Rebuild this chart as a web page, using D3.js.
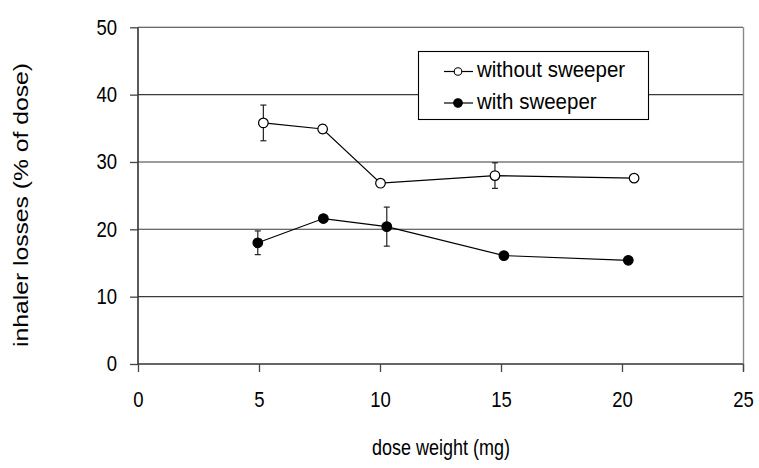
<!DOCTYPE html>
<html><head><meta charset="utf-8">
<script src="https://cdn.jsdelivr.net/npm/d3@7"></script>
<style>body{margin:0;background:#fff}svg{display:block;font-family:Arial,"Liberation Sans",sans-serif}</style>
</head><body>
<svg id="c" width="759" height="468"></svg>
<script>
const xTicks = [0, 5, 10, 15, 20, 25];
const yTicks = [0, 10, 20, 30, 40, 50];
const seriesNames = ["without sweeper", "with sweeper"];
const withoutX = [5.18, 7.63, 10.02, 14.75, 20.5];
const withoutY = [35.8, 34.9, 26.85, 27.98, 27.6];
const withoutErr = [2.65, 0.6, 0.5, 1.9, 0.3];
const withX = [4.95, 7.66, 10.28, 15.12, 20.26];
const withY = [18.0, 21.6, 20.4, 16.1, 15.4];
const withErr = [1.76, 0.3, 2.9, 0.3, 0.3];

const svg = d3.select("#c");
const L = 138, R = 743, T = 27.3, B = 364;
const x = d3.scaleLinear().domain([0, 25]).range([L, R]);
const y = d3.scaleLinear().domain([0, 50]).range([B, T]);

// stretch text vertically: keep width of baseSize, height of tallSize
function stretch(sel, baseSize, tallSize) {
  sel.each(function () {
    const t = d3.select(this).attr("font-size", baseSize);
    const w = this.getComputedTextLength();
    t.attr("font-size", tallSize).attr("textLength", w).attr("lengthAdjust", "spacingAndGlyphs");
  });
}

// gridlines
svg.append("g").selectAll("line").data(yTicks.filter(d => d > 0)).join("line")
  .attr("x1", L).attr("x2", R).attr("y1", d => y(d)).attr("y2", d => y(d))
  .attr("stroke", "#3a3a3a").attr("stroke-width", 1.1);
// right border
svg.append("line").attr("x1", R + 0.5).attr("x2", R + 0.5).attr("y1", T).attr("y2", B + 7)
  .attr("stroke", "#888").attr("stroke-width", 1.4);

const xAxis = svg.append("g").attr("transform", `translate(0,${B})`)
  .call(d3.axisBottom(x).tickValues(xTicks).tickSize(8).tickPadding(20).tickFormat(d3.format("d")));
const yAxis = svg.append("g").attr("transform", `translate(${L},0)`)
  .call(d3.axisLeft(y).tickValues(yTicks).tickSize(8).tickPadding(13).tickFormat(d3.format("d")));
[xAxis, yAxis].forEach(a => {
  a.select(".domain").attr("stroke", "#333").attr("stroke-width", 1.6);
  a.selectAll(".tick line").attr("stroke", "#444").attr("stroke-width", 1.3);
  a.selectAll("text").attr("fill", "#000").attr("font-family", "Arial, 'Liberation Sans', sans-serif");
  stretch(a.selectAll("text"), 18.5, 21.5);
});
xAxis.select(".domain").attr("d", `M${L},0H${R}`);
yAxis.select(".domain").attr("d", `M0,${T}V${B}`);

const xt = svg.append("text").attr("x", 441).attr("y", 455).attr("text-anchor", "middle").text("dose weight (mg)");
stretch(xt, 18, 21.5);
svg.append("text").attr("transform", "translate(28,205) rotate(-90)").attr("text-anchor", "middle")
  .attr("font-size", 20).attr("textLength", 284).attr("lengthAdjust", "spacingAndGlyphs")
  .text("inhaler losses (% of dose)");

const series = [
  {name: seriesNames[0], xs: withoutX, ys: withoutY, es: withoutErr, fill: "#fff"},
  {name: seriesNames[1], xs: withX, ys: withY, es: withErr, fill: "#000"}
];
const line = d3.line().x(d => x(d.x)).y(d => y(d.y));
series.forEach(s => {
  const pts = s.xs.map((v, i) => ({x: v, y: s.ys[i], e: s.es[i]}));
  const g = svg.append("g");
  g.append("path").attr("d", line(pts)).attr("fill", "none").attr("stroke", "#000").attr("stroke-width", 1.2);
  pts.forEach(p => {
    const cx = x(p.x);
    g.append("line").attr("x1", cx).attr("x2", cx).attr("y1", y(p.y + p.e)).attr("y2", y(p.y - p.e))
      .attr("stroke", "#222").attr("stroke-width", 1.2);
    [p.y + p.e, p.y - p.e].forEach(v => g.append("line").attr("x1", cx - 3).attr("x2", cx + 3)
      .attr("y1", y(v)).attr("y2", y(v)).attr("stroke", "#222").attr("stroke-width", 1.2));
  });
  g.selectAll("circle").data(pts).join("circle")
    .attr("cx", d => x(d.x)).attr("cy", d => y(d.y)).attr("r", 4.8)
    .attr("fill", s.fill).attr("stroke", "#000").attr("stroke-width", 1.2);
});

// legend
const lg = svg.append("g");
lg.append("rect").attr("x", 418.5).attr("y", 51.5).attr("width", 230).attr("height", 68)
  .attr("fill", "#fff").attr("stroke", "#000").attr("stroke-width", 1.1);
series.forEach((s, i) => {
  const yy = 71.5 + i * 31.5;
  lg.append("line").attr("x1", 444).attr("x2", 473).attr("y1", yy).attr("y2", yy).attr("stroke", "#000").attr("stroke-width", 1.2);
  lg.append("circle").attr("cx", 458).attr("cy", yy).attr("r", i === 0 ? 3.8 : 4.3)
    .attr("fill", s.fill).attr("stroke", "#000").attr("stroke-width", 1.1);
  const t = lg.append("text").attr("x", 477).attr("y", yy + 5.5).text(s.name);
  stretch(t, 20.5, 21.5);
});
</script>
</body></html>
